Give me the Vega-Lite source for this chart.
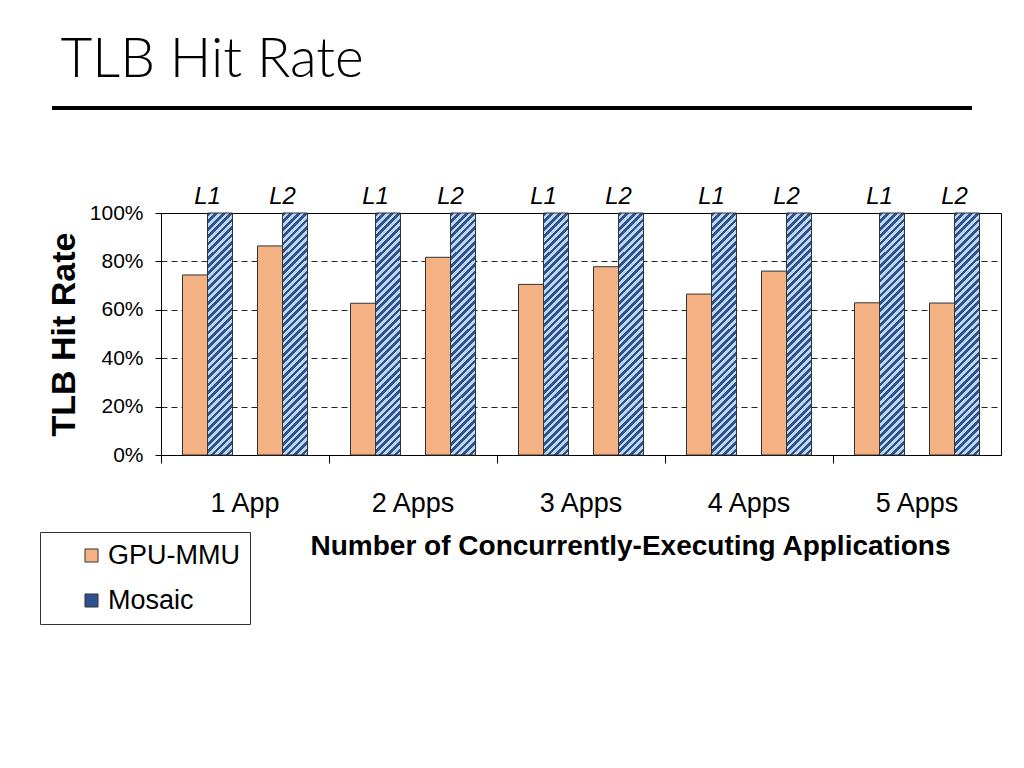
{
  "$schema": "https://vega.github.io/schema/vega-lite/v6.json",
  "padding": {"left": 39, "top": 33, "right": 10, "bottom": 10},
  "title": {"text": "TLB Hit Rate", "anchor": "start", "font": "Lato", "fontWeight": 300, "fontSize": 55, "color": "#000", "dx": 21, "offset": 17},
  "config": {"font": "Liberation Sans", "view": {"stroke": null}},
  "spacing": 74,
  "vconcat": [
    {
      "width": 840,
      "height": 1,
      "data": {"values": [{"start": 0, "end": 1}]},
      "mark": {"type": "rule", "strokeWidth": 4, "color": "#000"},
      "encoding": {
        "x": {"field": "start", "type": "quantitative", "scale": {"domain": [0, 1], "range": [-109, 811]}, "axis": null},
        "x2": {"field": "end"},
        "y": {"datum": 0, "type": "quantitative", "scale": {"domain": [0, 1]}, "axis": null}
      }
    },
    {
      "width": 840,
      "height": 242,
      "view": {"stroke": "#000", "strokeWidth": 1},
      "data": {"values": [
        {"app": "1 App", "level": "L1", "series": "GPU-MMU", "slot": "L1 GPU-MMU", "rate": 0.744},
        {"app": "1 App", "level": "L1", "series": "Mosaic", "slot": "L1 Mosaic", "rate": 1.0},
        {"app": "1 App", "level": "L2", "series": "GPU-MMU", "slot": "L2 GPU-MMU", "rate": 0.864},
        {"app": "1 App", "level": "L2", "series": "Mosaic", "slot": "L2 Mosaic", "rate": 1.0},
        {"app": "2 Apps", "level": "L1", "series": "GPU-MMU", "slot": "L1 GPU-MMU", "rate": 0.627},
        {"app": "2 Apps", "level": "L1", "series": "Mosaic", "slot": "L1 Mosaic", "rate": 1.0},
        {"app": "2 Apps", "level": "L2", "series": "GPU-MMU", "slot": "L2 GPU-MMU", "rate": 0.817},
        {"app": "2 Apps", "level": "L2", "series": "Mosaic", "slot": "L2 Mosaic", "rate": 1.0},
        {"app": "3 Apps", "level": "L1", "series": "GPU-MMU", "slot": "L1 GPU-MMU", "rate": 0.705},
        {"app": "3 Apps", "level": "L1", "series": "Mosaic", "slot": "L1 Mosaic", "rate": 1.0},
        {"app": "3 Apps", "level": "L2", "series": "GPU-MMU", "slot": "L2 GPU-MMU", "rate": 0.778},
        {"app": "3 Apps", "level": "L2", "series": "Mosaic", "slot": "L2 Mosaic", "rate": 1.0},
        {"app": "4 Apps", "level": "L1", "series": "GPU-MMU", "slot": "L1 GPU-MMU", "rate": 0.665},
        {"app": "4 Apps", "level": "L1", "series": "Mosaic", "slot": "L1 Mosaic", "rate": 1.0},
        {"app": "4 Apps", "level": "L2", "series": "GPU-MMU", "slot": "L2 GPU-MMU", "rate": 0.760},
        {"app": "4 Apps", "level": "L2", "series": "Mosaic", "slot": "L2 Mosaic", "rate": 1.0},
        {"app": "5 Apps", "level": "L1", "series": "GPU-MMU", "slot": "L1 GPU-MMU", "rate": 0.629},
        {"app": "5 Apps", "level": "L1", "series": "Mosaic", "slot": "L1 Mosaic", "rate": 1.0},
        {"app": "5 Apps", "level": "L2", "series": "GPU-MMU", "slot": "L2 GPU-MMU", "rate": 0.628},
        {"app": "5 Apps", "level": "L2", "series": "Mosaic", "slot": "L2 Mosaic", "rate": 1.0}
      ]},
      "encoding": {
        "x": {
          "field": "app", "type": "nominal", "sort": null,
          "scale": {"paddingInner": 0, "paddingOuter": 0},
          "axis": {
            "title": "Number of Concurrently-Executing Applications",
            "labels": false, "bandPosition": 0, "tickSize": 8, "tickColor": "#000", "domainColor": "#000",
            "titleFontSize": 28, "titleFontWeight": "bold", "titleColor": "#000",
            "titleX": 469, "titleY": 77, "titleBaseline": "top", "titleAlign": "center"
          }
        },
        "y": {
          "field": "rate", "type": "quantitative", "scale": {"domain": [0, 1]},
          "axis": {
            "title": "TLB Hit Rate", "titleFontSize": 34, "titleFontWeight": "bold", "titleColor": "#000", "titlePadding": 8,
            "values": [0, 0.2, 0.4, 0.6, 0.8, 1], "format": ".0%",
            "labelFontSize": 21, "labelColor": "#000", "labelPadding": 12,
            "tickSize": 6, "tickColor": "#000", "domainColor": "#000",
            "grid": true, "gridDash": [6, 4], "gridColor": "#000", "gridOpacity": 0.85
          }
        }
      },
      "layer": [
        {
          "mark": {"type": "bar", "stroke": "#333", "strokeWidth": 1},
          "encoding": {
            "xOffset": {"field": "slot", "type": "nominal", "scale": {"domain": ["L1 GPU-MMU", "L1 Mosaic", "gap", "L2 GPU-MMU", "L2 Mosaic"], "paddingInner": 0, "paddingOuter": 0.86}},
            "fill": {
              "field": "series", "type": "nominal",
              "scale": {"domain": ["GPU-MMU", "Mosaic"], "range": ["#F4B183", "#2F528F"]},
              "legend": {
                "title": null, "orient": "none", "legendX": -121, "legendY": 425,
                "labelFontSize": 27, "labelColor": "#000", "labelOffset": 3,
                "symbolType": "square", "symbolSize": 170, "symbolStrokeColor": "#333", "symbolStrokeWidth": 1,
                "strokeColor": "#333", "fillColor": "#fff", "padding": 10, "symbolOffset": 28, "rowPadding": 17
              },
              "condition": {
                "test": "datum.series === 'Mosaic'",
                "value": {
                  "gradient": "linear", "x1": 0, "y1": 0, "x2": 0.1124, "y2": 1.0913,
                  "stops": [
                    {"offset": 0, "color": "#2F528F"}, {"offset": 0.01389, "color": "#2F528F"}, {"offset": 0.01389, "color": "#BDD7EE"}, {"offset": 0.02778, "color": "#BDD7EE"},
                    {"offset": 0.02778, "color": "#2F528F"}, {"offset": 0.04167, "color": "#2F528F"}, {"offset": 0.04167, "color": "#BDD7EE"}, {"offset": 0.05556, "color": "#BDD7EE"},
                    {"offset": 0.05556, "color": "#2F528F"}, {"offset": 0.06944, "color": "#2F528F"}, {"offset": 0.06944, "color": "#BDD7EE"}, {"offset": 0.08333, "color": "#BDD7EE"},
                    {"offset": 0.08333, "color": "#2F528F"}, {"offset": 0.09722, "color": "#2F528F"}, {"offset": 0.09722, "color": "#BDD7EE"}, {"offset": 0.11111, "color": "#BDD7EE"},
                    {"offset": 0.11111, "color": "#2F528F"}, {"offset": 0.125, "color": "#2F528F"}, {"offset": 0.125, "color": "#BDD7EE"}, {"offset": 0.13889, "color": "#BDD7EE"},
                    {"offset": 0.13889, "color": "#2F528F"}, {"offset": 0.15278, "color": "#2F528F"}, {"offset": 0.15278, "color": "#BDD7EE"}, {"offset": 0.16667, "color": "#BDD7EE"},
                    {"offset": 0.16667, "color": "#2F528F"}, {"offset": 0.18056, "color": "#2F528F"}, {"offset": 0.18056, "color": "#BDD7EE"}, {"offset": 0.19444, "color": "#BDD7EE"},
                    {"offset": 0.19444, "color": "#2F528F"}, {"offset": 0.20833, "color": "#2F528F"}, {"offset": 0.20833, "color": "#BDD7EE"}, {"offset": 0.22222, "color": "#BDD7EE"},
                    {"offset": 0.22222, "color": "#2F528F"}, {"offset": 0.23611, "color": "#2F528F"}, {"offset": 0.23611, "color": "#BDD7EE"}, {"offset": 0.25, "color": "#BDD7EE"},
                    {"offset": 0.25, "color": "#2F528F"}, {"offset": 0.26389, "color": "#2F528F"}, {"offset": 0.26389, "color": "#BDD7EE"}, {"offset": 0.27778, "color": "#BDD7EE"},
                    {"offset": 0.27778, "color": "#2F528F"}, {"offset": 0.29167, "color": "#2F528F"}, {"offset": 0.29167, "color": "#BDD7EE"}, {"offset": 0.30556, "color": "#BDD7EE"},
                    {"offset": 0.30556, "color": "#2F528F"}, {"offset": 0.31944, "color": "#2F528F"}, {"offset": 0.31944, "color": "#BDD7EE"}, {"offset": 0.33333, "color": "#BDD7EE"},
                    {"offset": 0.33333, "color": "#2F528F"}, {"offset": 0.34722, "color": "#2F528F"}, {"offset": 0.34722, "color": "#BDD7EE"}, {"offset": 0.36111, "color": "#BDD7EE"},
                    {"offset": 0.36111, "color": "#2F528F"}, {"offset": 0.375, "color": "#2F528F"}, {"offset": 0.375, "color": "#BDD7EE"}, {"offset": 0.38889, "color": "#BDD7EE"},
                    {"offset": 0.38889, "color": "#2F528F"}, {"offset": 0.40278, "color": "#2F528F"}, {"offset": 0.40278, "color": "#BDD7EE"}, {"offset": 0.41667, "color": "#BDD7EE"},
                    {"offset": 0.41667, "color": "#2F528F"}, {"offset": 0.43056, "color": "#2F528F"}, {"offset": 0.43056, "color": "#BDD7EE"}, {"offset": 0.44444, "color": "#BDD7EE"},
                    {"offset": 0.44444, "color": "#2F528F"}, {"offset": 0.45833, "color": "#2F528F"}, {"offset": 0.45833, "color": "#BDD7EE"}, {"offset": 0.47222, "color": "#BDD7EE"},
                    {"offset": 0.47222, "color": "#2F528F"}, {"offset": 0.48611, "color": "#2F528F"}, {"offset": 0.48611, "color": "#BDD7EE"}, {"offset": 0.5, "color": "#BDD7EE"},
                    {"offset": 0.5, "color": "#2F528F"}, {"offset": 0.51389, "color": "#2F528F"}, {"offset": 0.51389, "color": "#BDD7EE"}, {"offset": 0.52778, "color": "#BDD7EE"},
                    {"offset": 0.52778, "color": "#2F528F"}, {"offset": 0.54167, "color": "#2F528F"}, {"offset": 0.54167, "color": "#BDD7EE"}, {"offset": 0.55556, "color": "#BDD7EE"},
                    {"offset": 0.55556, "color": "#2F528F"}, {"offset": 0.56944, "color": "#2F528F"}, {"offset": 0.56944, "color": "#BDD7EE"}, {"offset": 0.58333, "color": "#BDD7EE"},
                    {"offset": 0.58333, "color": "#2F528F"}, {"offset": 0.59722, "color": "#2F528F"}, {"offset": 0.59722, "color": "#BDD7EE"}, {"offset": 0.61111, "color": "#BDD7EE"},
                    {"offset": 0.61111, "color": "#2F528F"}, {"offset": 0.625, "color": "#2F528F"}, {"offset": 0.625, "color": "#BDD7EE"}, {"offset": 0.63889, "color": "#BDD7EE"},
                    {"offset": 0.63889, "color": "#2F528F"}, {"offset": 0.65278, "color": "#2F528F"}, {"offset": 0.65278, "color": "#BDD7EE"}, {"offset": 0.66667, "color": "#BDD7EE"},
                    {"offset": 0.66667, "color": "#2F528F"}, {"offset": 0.68056, "color": "#2F528F"}, {"offset": 0.68056, "color": "#BDD7EE"}, {"offset": 0.69444, "color": "#BDD7EE"},
                    {"offset": 0.69444, "color": "#2F528F"}, {"offset": 0.70833, "color": "#2F528F"}, {"offset": 0.70833, "color": "#BDD7EE"}, {"offset": 0.72222, "color": "#BDD7EE"},
                    {"offset": 0.72222, "color": "#2F528F"}, {"offset": 0.73611, "color": "#2F528F"}, {"offset": 0.73611, "color": "#BDD7EE"}, {"offset": 0.75, "color": "#BDD7EE"},
                    {"offset": 0.75, "color": "#2F528F"}, {"offset": 0.76389, "color": "#2F528F"}, {"offset": 0.76389, "color": "#BDD7EE"}, {"offset": 0.77778, "color": "#BDD7EE"},
                    {"offset": 0.77778, "color": "#2F528F"}, {"offset": 0.79167, "color": "#2F528F"}, {"offset": 0.79167, "color": "#BDD7EE"}, {"offset": 0.80556, "color": "#BDD7EE"},
                    {"offset": 0.80556, "color": "#2F528F"}, {"offset": 0.81944, "color": "#2F528F"}, {"offset": 0.81944, "color": "#BDD7EE"}, {"offset": 0.83333, "color": "#BDD7EE"},
                    {"offset": 0.83333, "color": "#2F528F"}, {"offset": 0.84722, "color": "#2F528F"}, {"offset": 0.84722, "color": "#BDD7EE"}, {"offset": 0.86111, "color": "#BDD7EE"},
                    {"offset": 0.86111, "color": "#2F528F"}, {"offset": 0.875, "color": "#2F528F"}, {"offset": 0.875, "color": "#BDD7EE"}, {"offset": 0.88889, "color": "#BDD7EE"},
                    {"offset": 0.88889, "color": "#2F528F"}, {"offset": 0.90278, "color": "#2F528F"}, {"offset": 0.90278, "color": "#BDD7EE"}, {"offset": 0.91667, "color": "#BDD7EE"},
                    {"offset": 0.91667, "color": "#2F528F"}, {"offset": 0.93056, "color": "#2F528F"}, {"offset": 0.93056, "color": "#BDD7EE"}, {"offset": 0.94444, "color": "#BDD7EE"},
                    {"offset": 0.94444, "color": "#2F528F"}, {"offset": 0.95833, "color": "#2F528F"}, {"offset": 0.95833, "color": "#BDD7EE"}, {"offset": 0.97222, "color": "#BDD7EE"},
                    {"offset": 0.97222, "color": "#2F528F"}, {"offset": 0.98611, "color": "#2F528F"}, {"offset": 0.98611, "color": "#BDD7EE"}, {"offset": 1, "color": "#BDD7EE"}
                  ]
                }
              }
            }
          }
        },
        {
          "transform": [{"filter": "datum.series === 'GPU-MMU'"}],
          "mark": {"type": "text", "fontStyle": "italic", "fontSize": 24, "dx": 12.5, "dy": -9, "baseline": "alphabetic", "color": "#000"},
          "encoding": {
            "xOffset": {"field": "slot", "type": "nominal", "scale": {"domain": ["L1 GPU-MMU", "L1 Mosaic", "gap", "L2 GPU-MMU", "L2 Mosaic"], "paddingInner": 0, "paddingOuter": 0.86}},
            "y": {"datum": 1, "type": "quantitative"},
            "text": {"field": "level", "type": "nominal"}
          }
        },
        {
          "transform": [{"filter": "datum.series === 'GPU-MMU' && datum.level === 'L1'"}],
          "mark": {"type": "text", "fontSize": 27, "dy": 57, "baseline": "alphabetic", "color": "#000"},
          "encoding": {
            "y": {"datum": 0, "type": "quantitative"},
            "text": {"field": "app", "type": "nominal"}
          }
        }
      ]
    }
  ]
}
